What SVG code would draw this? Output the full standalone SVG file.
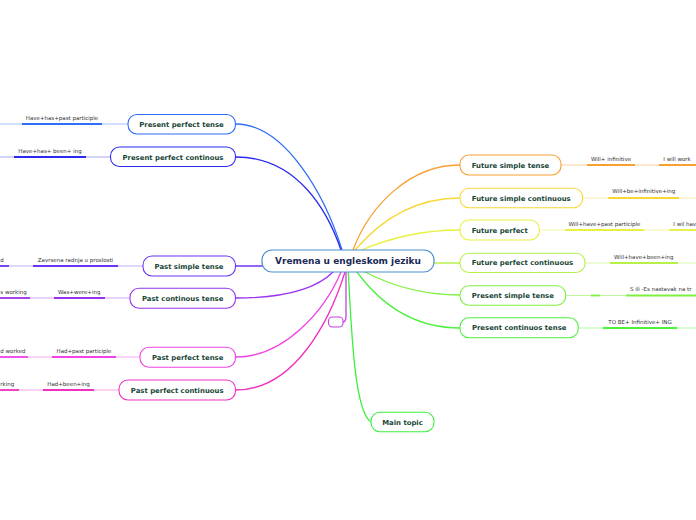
<svg xmlns="http://www.w3.org/2000/svg" width="696" height="520" viewBox="0 0 696 520">
<style>
.bg{fill:#ffffff}
.node{fill:#ffffff;stroke-width:1.1}
.nt{font-family:"DejaVu Sans",Verdana,sans-serif;font-weight:bold;font-size:6.9px;fill:#174535;text-anchor:middle}
.ct{font-family:"DejaVu Sans",Verdana,sans-serif;font-weight:bold;font-size:9px;fill:#1b2a55;text-anchor:middle}
.st{font-family:"DejaVu Sans",Verdana,sans-serif;font-size:5.5px;fill:#333333;text-anchor:middle}
.sl{font-family:"DejaVu Sans",Verdana,sans-serif;font-size:5.5px;fill:#333333;text-anchor:start}
.sr{font-family:"DejaVu Sans",Verdana,sans-serif;font-size:5.5px;fill:#333333;text-anchor:end}
.c{fill:none;stroke-width:1.3}
.thin{fill:none;stroke-width:1.2}
.u{fill:none;stroke-width:1.8}
</style>
<rect class="bg" x="0" y="0" width="696" height="520"/>
<g id="connectors">
  <path class="c" stroke="#2f6ef7" d="M236,124 C285,124 325,195 342,250 L346,261"/>
  <path class="c" stroke="#2a2af0" d="M236,157 C298,157 328,212 341,250 L346,261"/>
  <path class="c" stroke="#6b35f5" d="M236,266 L300,266"/>
  <path class="c" stroke="#9933f0" d="M236,298 C280,298 315,290 333,272 L345,262"/>
  <path class="c" stroke="#c044e0" d="M346,265 L346,316 Q346,322 343,322"/>
  <path class="c" stroke="#f044e6" d="M236,357 C285,357 325,310 341,272 L346,262"/>
  <path class="c" stroke="#f030c0" d="M236,390 C295,390 330,320 345,272 L347,262"/>
  <path class="c" stroke="#3ef03e" d="M348,265 C352,350 356,412 371,422"/>
  <path class="c" stroke="#f8a030" d="M347,261 L353,250 C370,205 410,165 460,165"/>
  <path class="c" stroke="#f8d838" d="M347,261 L355,250 C385,215 420,198 460,198"/>
  <path class="c" stroke="#e8f040" d="M347,261 L357,252 C395,235 430,230 460,230"/>
  <path class="c" stroke="#b8f04a" d="M400,263 L460,263"/>
  <path class="c" stroke="#80f040" d="M348,262 L365,272 C400,290 430,295 460,295"/>
  <path class="c" stroke="#50f040" d="M348,262 L357,272 C385,310 420,328 460,328"/>

  <path class="thin" stroke="#a8c2fb" d="M0,124 L128,124"/>
  <path class="u" stroke="#2f6ef7" d="M22,124 L102,124"/>
  <path class="thin" stroke="#a8a8f8" d="M0,157 L110,157"/>
  <path class="u" stroke="#2a2af0" d="M14,157 L86,157"/>
  <path class="thin" stroke="#c4aefa" d="M0,266 L143,266"/>
  <path class="u" stroke="#6b35f5" d="M33,266 L118,266"/>
  <path class="u" stroke="#6b35f5" d="M0,266 L9,266"/>
  <path class="thin" stroke="#d6a8f8" d="M0,298 L130,298"/>
  <path class="u" stroke="#9933f0" d="M54,298 L105,298"/>
  <path class="u" stroke="#9933f0" d="M0,298 L30,298"/>
  <path class="thin" stroke="#f8aef2" d="M0,357 L140,357"/>
  <path class="u" stroke="#f044e6" d="M52,357 L116,357"/>
  <path class="u" stroke="#f044e6" d="M0,357 L28,357"/>
  <path class="thin" stroke="#f8a8e2" d="M0,390 L119,390"/>
  <path class="u" stroke="#f030c0" d="M43,390 L94,390"/>
  <path class="u" stroke="#f030c0" d="M0,390 L19,390"/>

  <path class="thin" stroke="#fbd0a0" d="M561,165 L696,165"/>
  <path class="u" stroke="#f8a030" d="M587,165 L635,165"/>
  <path class="u" stroke="#f8a030" d="M659,165 L696,165"/>
  <path class="thin" stroke="#fcecb0" d="M583,198 L696,198"/>
  <path class="u" stroke="#f8d838" d="M608,198 L679,198"/>
  <path class="thin" stroke="#f4f8a8" d="M539,230 L696,230"/>
  <path class="u" stroke="#e8f040" d="M565,230 L644,230"/>
  <path class="u" stroke="#e8f040" d="M669,230 L696,230"/>
  <path class="thin" stroke="#dcf8b0" d="M585,263 L696,263"/>
  <path class="u" stroke="#b8f04a" d="M610,263 L678,263"/>
  <path class="thin" stroke="#c0f8a0" d="M565,295.5 L696,295.5"/>
  <path class="u" stroke="#80f040" d="M591,295.5 L600,295.5"/>
  <path class="u" stroke="#80f040" d="M626,295.5 L696,295.5"/>
  <path class="thin" stroke="#b0f8a8" d="M578,328 L696,328"/>
  <path class="u" stroke="#50f040" d="M603,328 L677,328"/>
</g>

<g id="center">
  <rect x="262" y="250" width="172" height="22" rx="10" fill="#ffffff" stroke="#4d8fcf" stroke-width="1.2"/>
  <text class="ct" x="348" y="264.2">Vremena u engleskom jeziku</text>
</g>

<g id="present-perfect-tense">
  <rect class="node" x="128" y="114.5" width="107.5" height="19.5" rx="9" stroke="#2f6ef7"/>
  <text class="nt" x="181.5" y="126.7">Present perfect tense</text>
  <text class="st" x="62" y="120">Have+has+past participle</text>
</g>
<g id="present-perfect-continous">
  <rect class="node" x="110.5" y="147" width="125" height="19.5" rx="9" stroke="#2a2af0"/>
  <text class="nt" x="173" y="159.5">Present perfect continous</text>
  <text class="st" x="50" y="153">Have+has+ been+ ing</text>
</g>
<g id="past-simple-tense">
  <rect class="node" x="143" y="256" width="92.5" height="20" rx="9" stroke="#6b35f5"/>
  <text class="nt" x="189" y="268.5">Past simple tense</text>
  <text class="st" x="75.5" y="261.8">Zavrsena radnja u proslosti</text>
  <text class="sl" x="0.3" y="261.8">d</text>
</g>
<g id="past-continous-tense">
  <rect class="node" x="130" y="288.3" width="105.5" height="20" rx="9" stroke="#9933f0"/>
  <text class="nt" x="182.7" y="300.8">Past continous tense</text>
  <text class="st" x="79.2" y="293.7">Was+were+ing</text>
  <text class="sl" x="0.3" y="293.7">s working</text>
</g>
<g id="past-perfect-tense">
  <rect class="node" x="140" y="347.3" width="95.5" height="20" rx="9" stroke="#f044e6"/>
  <text class="nt" x="187.7" y="359.8">Past perfect tense</text>
  <text class="st" x="84" y="352.7">Had+past participle</text>
  <text class="sl" x="0.3" y="352.7">d worked</text>
</g>
<g id="past-perfect-continuous">
  <rect class="node" x="119" y="380" width="116.5" height="20" rx="9" stroke="#f030c0"/>
  <text class="nt" x="177.2" y="392.5">Past perfect continuous</text>
  <text class="st" x="68.5" y="385.7">Had+been+ing</text>
  <text class="sl" x="0.3" y="385.7">rking</text>
</g>
<g id="empty-node">
  <rect class="node" x="328.5" y="317" width="14.5" height="10" rx="4" stroke="#c044e0"/>
</g>
<g id="main-topic">
  <rect class="node" x="371" y="412.3" width="63" height="19.5" rx="9" stroke="#3ef03e"/>
  <text class="nt" x="402.5" y="424.6">Main topic</text>
</g>

<g id="future-simple-tense">
  <rect class="node" x="460" y="155" width="101" height="20" rx="9" stroke="#f8a030"/>
  <text class="nt" x="510.5" y="167.5">Future simple tense</text>
  <text class="st" x="611" y="160.7">Will+ infinitive</text>
  <text class="sl" x="663.3" y="160.7">I will work</text>
</g>
<g id="future-simple-continuous">
  <rect class="node" x="460" y="188.3" width="122.7" height="19.5" rx="9" stroke="#f8d838"/>
  <text class="nt" x="521.3" y="200.5">Future simple continuous</text>
  <text class="st" x="643.8" y="193.3">Will+be+infinitive+ing</text>
</g>
<g id="future-perfect">
  <rect class="node" x="460" y="220" width="79.3" height="20" rx="9" stroke="#e8f040"/>
  <text class="nt" x="499.7" y="232.5">Future perfect</text>
  <text class="st" x="604.5" y="225.7">Will+have+past participle</text>
  <text class="sl" x="673.3" y="225.7">I wil hav</text>
</g>
<g id="future-perfect-continuous">
  <rect class="node" x="460" y="253.3" width="125" height="19.2" rx="9" stroke="#b8f04a"/>
  <text class="nt" x="522.5" y="265.4">Future perfect continuous</text>
  <text class="st" x="643.8" y="259">Will+have+been+ing</text>
</g>
<g id="present-simple-tense">
  <rect class="node" x="460" y="285.7" width="105.7" height="19.5" rx="9" stroke="#80f040"/>
  <text class="nt" x="512.8" y="298">Present simple tense</text>
  <text class="sl" x="630" y="291">S ili -Es nastavak na  tr</text>
</g>
<g id="present-continuos-tense">
  <rect class="node" x="460" y="317.7" width="118.3" height="20" rx="9" stroke="#50f040"/>
  <text class="nt" x="519.2" y="330.2">Present continuos tense</text>
  <text class="st" x="640" y="323.7">TO BE+ Infinitive+ ING</text>
</g>
</svg>
